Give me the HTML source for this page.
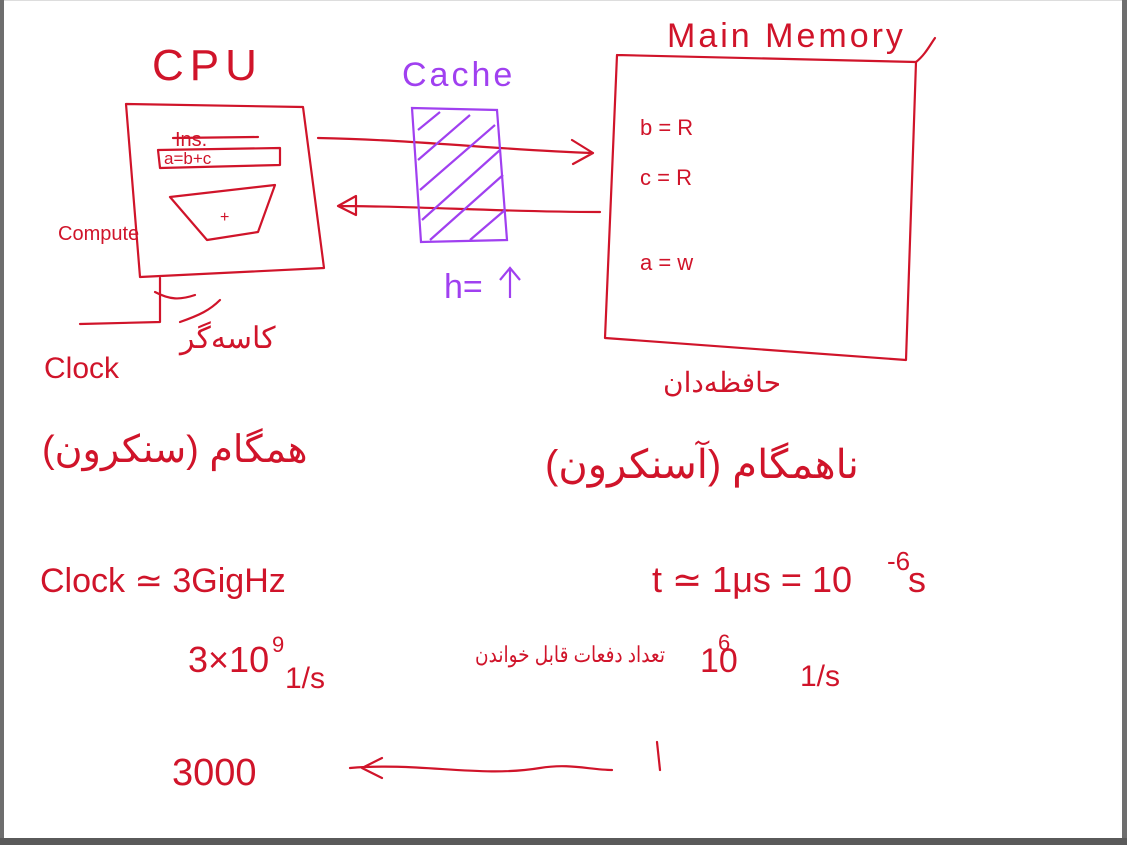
<!DOCTYPE html>
<html><head><meta charset="utf-8"><style>
html,body{margin:0;padding:0;background:#fff}
svg{display:block}
text{font-family:"Liberation Sans",sans-serif;fill:#d0142a}
.fa{font-family:"Liberation Sans","Noto Sans CJK SC",sans-serif}
</style></head><body>
<svg width="1127" height="845" viewBox="0 0 1127 845" xmlns="http://www.w3.org/2000/svg">
<rect x="0" y="0" width="1127" height="845" fill="#fff"/>
<rect x="0" y="0" width="4" height="845" fill="#6e6e6e"/>
<rect x="1122" y="0" width="5" height="845" fill="#6e6e6e"/>
<rect x="0" y="838" width="1127" height="7" fill="#5a5a5a"/>
<rect x="4" y="0" width="1118" height="1" fill="#ddd"/>
<g fill="none" stroke="#d0142a" stroke-width="2.2" stroke-linecap="round" stroke-linejoin="round">
<path d="M126 104 L303 107 L324 268 L140 277 L126 104"/>
<path d="M160 278 L160 322 L80 324"/>
<path d="M158 150 L280 148 L280 165 L160 168 Z"/>
<path d="M170 197 L275 185 L258 232 L207 240 Z"/>
<path d="M173 138 L258 137"/>
<path d="M617 55 L916 62 L906 360 L605 338 L617 55"/>
<path d="M916 62 C925 55 930 45 935 38"/>
<path d="M318 138 C420 140 500 150 593 153 M572 140 L593 153 L573 164"/>
<path d="M600 212 C500 212 420 206 338 206 M356 196 L338 206 L356 215 Z"/>
<path d="M350 768 C420 762 480 778 540 768 C570 763 590 770 612 770 M382 758 L362 768 L382 778"/>
<path d="M657 742 L660 770"/>
<path d="M155 292 C170 300 180 300 195 295 M180 322 C200 315 210 310 220 300"/>
</g>
<g fill="none" stroke="#a040f0" stroke-width="2.2">
<path d="M412 108 L497 110 L507 240 L421 242 Z"/>
<path d="M418 130 L440 112 M418 160 L470 115 M420 190 L495 125 M422 220 L500 150 M430 240 L503 175 M470 240 L505 210"/>
<path d="M510 270 L510 298 M500 280 L510 268 L520 280"/>
</g>
<text x="402" y="86" font-size="34" style="fill:#a040f0" letter-spacing="3">Cache</text>
<text x="444" y="298" font-size="34" style="fill:#a040f0">h=</text>
<text x="152" y="80" font-size="44" letter-spacing="6">CPU</text>
<text x="667" y="47" font-size="34" letter-spacing="3">Main Memory</text>
<text x="175" y="146" font-size="20">Ins.</text>
<text x="164" y="164" font-size="17">a=b+c</text>
<text x="220" y="222" font-size="16">+</text>
<text x="58" y="240" font-size="20">Compute</text>
<text x="44" y="378" font-size="30">Clock</text>
<text x="640" y="135" font-size="22">b = R</text>
<text x="640" y="185" font-size="22">c = R</text>
<text x="640" y="270" font-size="22">a = w</text>
<text x="40" y="592" font-size="34">Clock ≃ 3GigHz</text>
<text x="188" y="672" font-size="36">3×10</text>
<text x="272" y="652" font-size="22">9</text>
<text x="285" y="688" font-size="30">1/s</text>
<text x="172" y="785" font-size="38">3000</text>
<text x="652" y="592" font-size="36">t ≃ 1μs = 10</text>
<text x="887" y="570" font-size="26">-6</text>
<text x="908" y="592" font-size="36">s</text>
<text x="700" y="672" font-size="34">10</text>
<text x="718" y="650" font-size="22">6</text>
<text x="800" y="686" font-size="30">1/s</text>
<text class="fa" x="180" y="348" font-size="30">کاسه‌گر</text>
<text class="fa" x="42" y="462" font-size="38">همگام (سنکرون)</text>
<text class="fa" x="663" y="392" font-size="28">حافظه‌دان</text>
<text class="fa" x="545" y="478" font-size="40">ناهمگام (آسنکرون)</text>
<text class="fa" x="475" y="662" font-size="22" textLength="190" lengthAdjust="spacingAndGlyphs">تعداد دفعات قابل خواندن</text>
</svg>
</body></html>
